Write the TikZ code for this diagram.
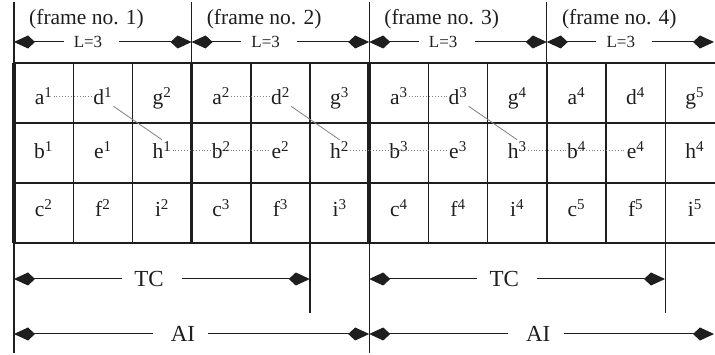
\documentclass[tikz,border=0pt]{standalone}
\usepackage{fontspec}
\setmainfont{Liberation Serif}
\usetikzlibrary{arrows.meta}
\definecolor{ink}{HTML}{1E1E1E}
\definecolor{linkgray}{HTML}{808080}
\begin{document}
\begin{tikzpicture}[x=1pt,y=-1pt,
  cell/.style={anchor=base, font=\fontsize{21.5}{24}\selectfont, text height=18pt, text depth=0pt, inner sep=1pt, text=ink},
  framelbl/.style={anchor=base west, font=\fontsize{21.5}{24}\selectfont, inner sep=0pt, text=ink},
  smalllbl/.style={font=\fontsize{17}{20}\selectfont, inner sep=0pt, text=ink},
  biglbl/.style={font=\fontsize{23}{26}\selectfont, inner sep=0pt, text=ink},
  dimarrow/.style={draw=ink, line width=1pt, -{Kite[length=21pt,width=13pt,inset=7pt]}},
  gridline/.style={draw=ink, line width=1.4pt},
  thinrule/.style={draw=ink, line width=1.1pt},
  dotlink/.style={draw=linkgray, line width=0.9pt, dotted},
  diaglink/.style={draw=linkgray, line width=0.8pt}
]
\useasboundingbox (0,0) rectangle (715,355);

% horizontal grid lines
\foreach \yy in {63,123,183,243} \draw[gridline] (14,\yy) -- (715,\yy);
% inner vertical grid lines
\foreach \k in {1,2,4,5,7,8,10,11}
  \draw[gridline] ({14+59.2*\k},63) -- ({14+59.2*\k},243);
% frame boundary lines
\draw[thinrule] (14,2) -- (14,353);
\draw[draw=ink, line width=4pt] (14,63) -- (14,243);
\draw[thinrule] (369.2,2) -- (369.2,353);
\draw[draw=ink, line width=3.5pt] (369.2,63) -- (369.2,243);
\draw[thinrule] (191.6,2) -- (191.6,63);
\draw[draw=ink, line width=2.4pt] (191.6,63) -- (191.6,243);
\draw[thinrule] (546.8,2) -- (546.8,63);
\draw[draw=ink, line width=2.4pt] (546.8,63) -- (546.8,243);
% TC end lines
\draw[thinrule] (310,243) -- (310,313);
\draw[thinrule] (665.2,243) -- (665.2,313);

% cells
\foreach \f in {1,...,4} {
  \pgfmathtruncatemacro\g{\f+1}
  \pgfmathsetmacro\xa{14+59.2*(3*(\f-1)+0.5)}
  \pgfmathsetmacro\xb{\xa+59.2}
  \pgfmathsetmacro\xc{\xa+118.4}
  \node[cell] (a\f) at (\xa,105) {a\textsuperscript{\f}};
  \node[cell] (d\f) at (\xb,105) {d\textsuperscript{\f}};
  \node[cell] (g\g) at (\xc,105) {g\textsuperscript{\g}};
  \node[cell] (b\f) at (\xa,159) {b\textsuperscript{\f}};
  \node[cell] (e\f) at (\xb,159) {e\textsuperscript{\f}};
  \node[cell] (h\f) at (\xc,159) {h\textsuperscript{\f}};
  \node[cell] (c\g) at (\xa,217) {c\textsuperscript{\g}};
  \node[cell] (f\g) at (\xb,217) {f\textsuperscript{\g}};
  \node[cell] (i\g) at (\xc,217) {i\textsuperscript{\g}};
}

% links
\foreach \f in {1,2,3} {
  \pgfmathtruncatemacro\g{\f+1}
  \draw[dotlink] (a\f.east) -- (d\f.west);
  \draw[diaglink] (d\f.south east) -- (h\f.north);
  \draw[dotlink] (h\f.east) -- (e\g.west);
}

% frame labels and L=3 arrows
\foreach \f/\fl/\fr in {1/14/191.6, 2/191.6/369.2, 3/369.2/546.8, 4/546.8/714} {
  \node[framelbl] (fr\f) at (\fl+15,25) {(frame no. \f)};
  \node[smalllbl] (L\f) at (\fl+74,42) {L=3};
  \coordinate (Ls\f) at (\fl,42);
  \coordinate (Le\f) at (\fr,42);
  \draw[dimarrow] ([xshift=-10pt]L\f.west) -- (Ls\f);
  \draw[dimarrow] ([xshift=17pt]L\f.east) -- (Le\f);
}

% TC and AI arrows
\foreach \f/\fl/\fr in {1/14/369.2, 3/369.2/714} {
  \node[biglbl] (tc\f) at (\fl+135,279) {TC};
  \coordinate (tcs\f) at (\fl,279);
  \coordinate (tce\f) at (\fl+295.8,279);
  \draw[dimarrow] ([xshift=-12pt]tc\f.west) -- (tcs\f);
  \draw[dimarrow] ([xshift=18pt]tc\f.east) -- (tce\f);
  \node[biglbl] (ai\f) at (\fl+169,334) {AI};
  \coordinate (ais\f) at (\fl,334);
  \coordinate (aie\f) at (\fr,334);
  \draw[dimarrow] ([xshift=-18pt]ai\f.west) -- (ais\f);
  \draw[dimarrow] ([xshift=13pt]ai\f.east) -- (aie\f);
}
\end{tikzpicture}
\end{document}
